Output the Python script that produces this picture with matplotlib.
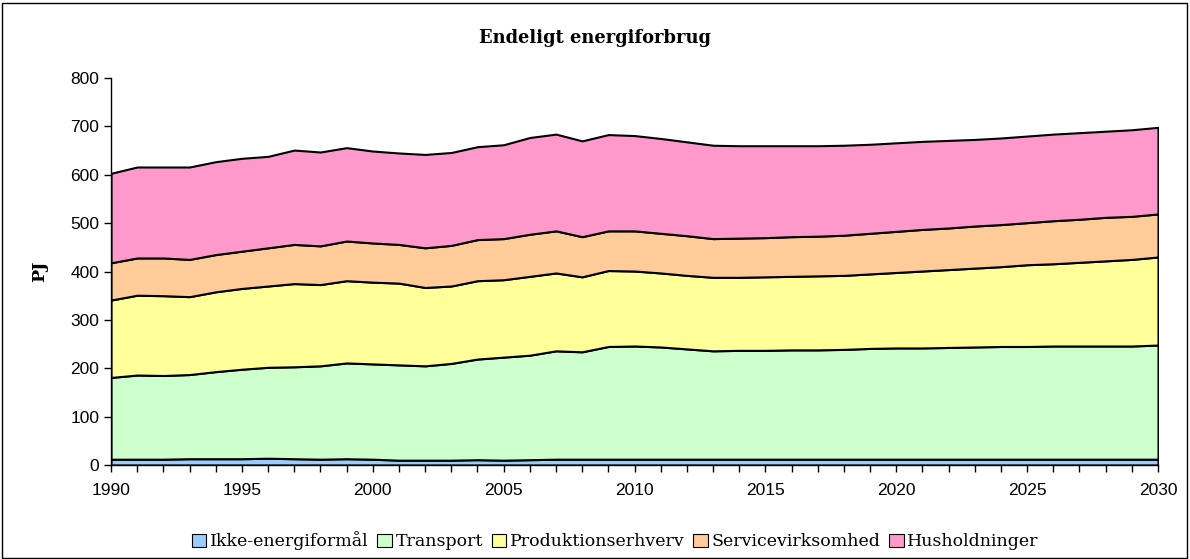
import matplotlib
matplotlib.use("Agg")
import matplotlib.pyplot as plt
from matplotlib.patches import Rectangle, Patch
from matplotlib.ticker import MultipleLocator
import numpy as np

years = list(range(1990, 2031))

# cumulative tops (PJ)
ikke = [12, 12, 12, 13, 13, 13, 14, 13, 12, 13, 12, 10, 10, 10, 11, 10, 11, 12, 12, 12,
        12, 12, 12, 12, 12, 12, 12, 12, 12, 12, 12, 12, 12, 12, 12, 12, 12, 12, 12, 12, 12]
transport_top = [181, 186, 185, 187, 193, 198, 202, 203, 205, 211, 209, 207, 205, 210, 219, 223,
                 227, 236, 234, 245, 246, 244, 240, 236, 237, 237, 238, 238, 239, 241, 242,
                 242, 243, 244, 245, 245, 246, 246, 246, 246, 248]
produktion_top = [341, 351, 350, 348, 358, 365, 370, 375, 373, 381, 378, 376, 367, 370, 381, 383,
                  390, 397, 389, 402, 401, 397, 392, 388, 388, 389, 390, 391, 392, 395, 398,
                  401, 404, 407, 410, 414, 416, 419, 422, 425, 430]
service_top = [418, 428, 428, 425, 435, 442, 449, 456, 453, 463, 459, 456, 449, 454, 466, 468,
               477, 484, 472, 484, 484, 479, 474, 468, 469, 470, 472, 473, 475, 479, 483,
               487, 490, 494, 497, 501, 505, 508, 512, 514, 519]
total_top = [603, 616, 616, 616, 627, 634, 638, 651, 647, 656, 649, 645, 642, 646, 658, 662,
             677, 684, 670, 683, 681, 675, 668, 661, 660, 660, 660, 660, 661, 663, 666,
             669, 671, 673, 676, 680, 684, 687, 690, 693, 698]

labels = ["Ikke-energiformål", "Transport", "Produktionserhverv", "Servicevirksomhed", "Husholdninger"]
colors = ["#99CCFF", "#CCFFCC", "#FFFF99", "#FFCC99", "#FF99CC"]

x = np.array(years)
tops = [np.array(ikke), np.array(transport_top), np.array(produktion_top),
        np.array(service_top), np.array(total_top)]
series = [tops[0]] + [tops[i] - tops[i - 1] for i in range(1, 5)]

fig = plt.figure(figsize=(11.9, 5.59), dpi=100)
ax = fig.add_axes([111/1190, 1 - 465/559, (1158 - 111)/1190, (465 - 78)/559])

ax.stackplot(x, *series, colors=colors, edgecolor="black", linewidth=1.5)

ax.set_xlim(1990, 2030)
ax.set_ylim(0, 800)
ax.yaxis.set_major_locator(MultipleLocator(100))
ax.xaxis.set_major_locator(MultipleLocator(5))
ax.xaxis.set_minor_locator(MultipleLocator(1))
ax.tick_params(axis="both", which="both", direction="out", length=5, width=1, color="black")
ax.tick_params(axis="x", which="major", pad=8)
for lab in ax.get_xticklabels() + ax.get_yticklabels():
    lab.set_fontfamily("Liberation Sans")
    lab.set_fontsize(12.5)

for s in ["top", "right"]:
    ax.spines[s].set_visible(False)
for s in ["left", "bottom"]:
    ax.spines[s].set_linewidth(1)

ax.set_ylabel("PJ", fontfamily="DejaVu Serif", fontweight="bold", fontsize=12.5, labelpad=16)

fig.text(0.5, 1 - 38/559, "Endeligt energiforbrug", ha="center", va="center",
         fontfamily="DejaVu Serif", fontweight="bold", fontsize=12.9)

handles = [Patch(facecolor=c, edgecolor="black", linewidth=0.8) for c in colors]
leg = fig.legend(handles, labels, loc="center", bbox_to_anchor=(0.517, 1 - 541/559), ncol=5,
                 frameon=False, handlelength=0.85, handleheight=0.85, handletextpad=0.2,
                 columnspacing=0.5, prop={"family": "DejaVu Serif", "size": 12.5})

fig.patches.append(Rectangle((2/1190, 1/559), 1 - 5/1190, 1 - 4/559, transform=fig.transFigure,
                             fill=False, edgecolor="black", linewidth=1))

fig.savefig("out.png", dpi=100)
